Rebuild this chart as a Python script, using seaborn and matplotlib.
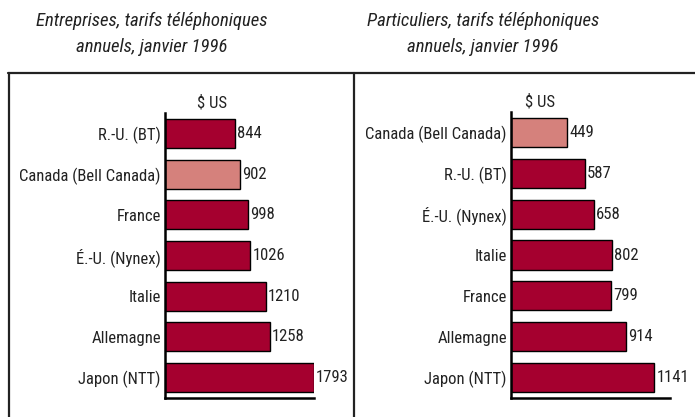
import matplotlib
matplotlib.use("Agg")
import matplotlib.pyplot as plt
from matplotlib.lines import Line2D
import seaborn as sns

# Entreprises (left panel)
biz_countries = ["R.-U. (BT)", "Canada (Bell Canada)", "France", "É.-U. (Nynex)",
                 "Italie", "Allemagne", "Japon (NTT)"]
biz_values = [844, 902, 998, 1026, 1210, 1258, 1793]

# Particuliers (right panel)
res_countries = ["Canada (Bell Canada)", "R.-U. (BT)", "É.-U. (Nynex)", "Italie",
                 "France", "Allemagne", "Japon (NTT)"]
res_values = [449, 587, 658, 802, 799, 914, 1141]

titles = ["Entreprises, tarifs téléphoniques\nannuels, janvier 1996",
          "Particuliers, tarifs téléphoniques\nannuels, janvier 1996"]
unit = "$ US"

DARK = "#a5002f"
LIGHT = "#d5817c"
FONT = ["Roboto Condensed", "DejaVu Sans"]
TXT = "#222222"
FS = 12

sns.set_theme(style="white")
plt.rcParams["font.family"] = FONT

fig = plt.figure(figsize=(6.95, 4.17), dpi=100)

panels = [
    (biz_countries, biz_values, [165 / 695, 19 / 417, 149 / 695, 285 / 417], 1793, 0.315, 152),
    (res_countries, res_values, [511 / 695, 19 / 417, 159 / 695, 286 / 417], 1267, 0.18, 483),
]

for (countries, values, rect, xmax, unit_x, title_x), title in zip(panels, titles):
    ax = fig.add_axes(rect)
    palette = {c: (LIGHT if c.startswith("Canada") else DARK) for c in countries}
    sns.barplot(x=values, y=countries, hue=countries, palette=palette, orient="h",
                width=0.71, saturation=1, edgecolor="black", linewidth=1.0,
                legend=False, ax=ax)
    for cont in ax.containers:
        ax.bar_label(cont, padding=1.5, fontsize=FS, color=TXT)
    ax.set_xlim(0, xmax)
    ax.set_ylim(6.5, -0.5)
    ax.set_xticks([])
    ax.set_xlabel("")
    ax.set_ylabel("")
    ax.tick_params(axis="y", length=0, pad=3, labelsize=FS, labelcolor=TXT)
    for s in ["top", "right"]:
        ax.spines[s].set_visible(False)
    for s in ["left", "bottom"]:
        ax.spines[s].set_color("black")
        ax.spines[s].set_linewidth(1.8)
    ax.text(unit_x, 1.01, unit, transform=ax.transAxes, ha="center", va="bottom",
            fontsize=FS, color=TXT)
    fig.text(title_x / 695, 1 - 34 / 417, title, ha="center", va="center",
             fontsize=13.5, style="italic", color=TXT, linespacing=1.6)

# frame lines
lc = "#222222"
fig.add_artist(Line2D([8 / 695, 1], [1 - 73 / 417] * 2, color=lc, lw=1.6))
fig.add_artist(Line2D([9 / 695] * 2, [0, 1 - 73 / 417], color=lc, lw=1.6))
fig.add_artist(Line2D([354 / 695] * 2, [0, 1 - 73 / 417], color=lc, lw=1.6))

fig.savefig("out.png", dpi=100)
